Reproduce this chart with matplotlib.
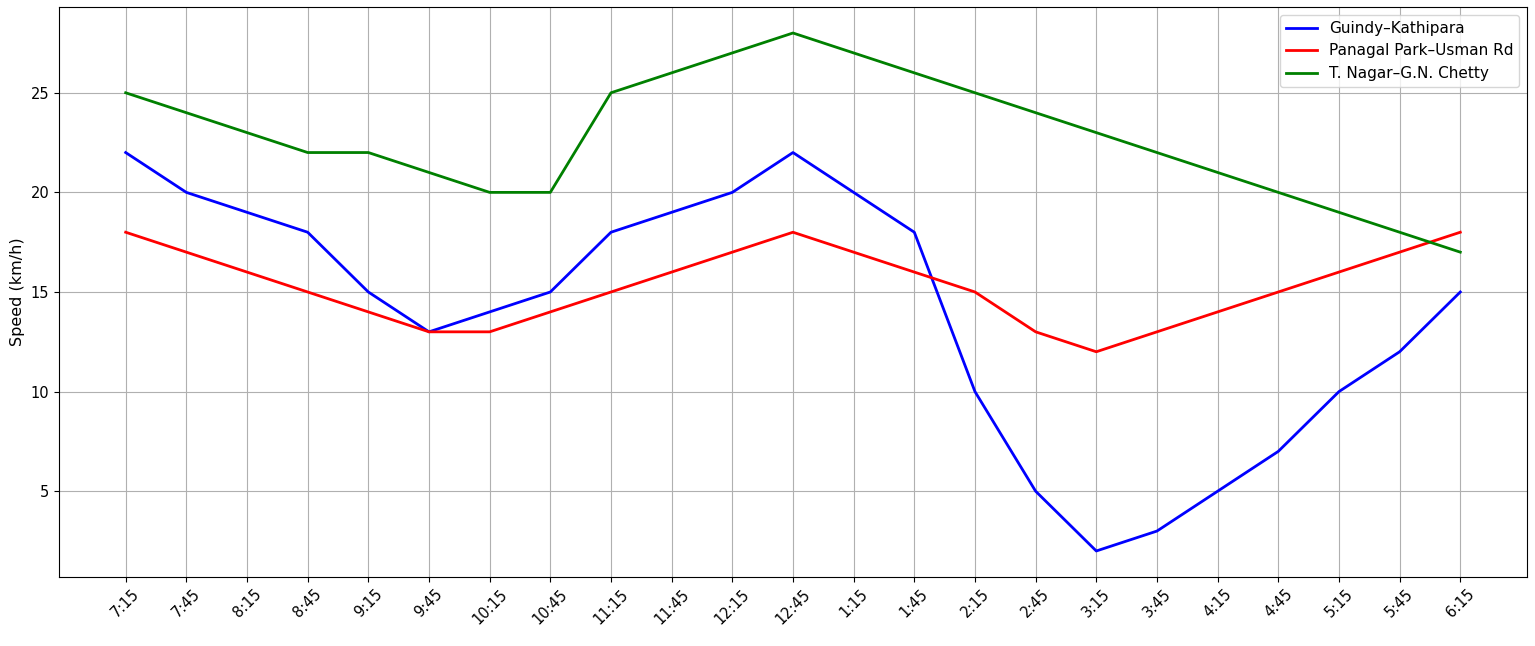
import matplotlib
matplotlib.use("Agg")
import matplotlib.pyplot as plt

times = ["7:15", "7:45", "8:15", "8:45", "9:15", "9:45", "10:15", "10:45",
         "11:15", "11:45", "12:15", "12:45", "1:15", "1:45", "2:15", "2:45",
         "3:15", "3:45", "4:15", "4:45", "5:15", "5:45", "6:15"]

guindy = [22, 20, 19, 18, 15, 13, 14, 15, 18, 19, 20, 22, 20, 18, 10, 5, 2, 3, 5, 7, 10, 12, 15]
panagal = [18, 17, 16, 15, 14, 13, 13, 14, 15, 16, 17, 18, 17, 16, 15, 13, 12, 13, 14, 15, 16, 17, 18]
tnagar = [25, 24, 23, 22, 22, 21, 20, 20, 25, 26, 27, 28, 27, 26, 25, 24, 23, 22, 21, 20, 19, 18, 17]

fig, ax = plt.subplots(figsize=(15.35, 6.46), dpi=100)
fig.subplots_adjust(left=0.0384, right=0.9948, top=0.989, bottom=0.107)

ax.plot(times, guindy, color="blue", linewidth=2, label="Guindy–Kathipara")
ax.plot(times, panagal, color="red", linewidth=2, label="Panagal Park–Usman Rd")
ax.plot(times, tnagar, color="green", linewidth=2, label="T. Nagar–G.N. Chetty")

ax.set_ylabel("Speed (km/h)", fontsize=11.5)
ax.tick_params(axis="both", labelsize=10.5)
plt.setp(ax.get_xticklabels(), rotation=45)
ax.grid(True)
ax.legend(loc="upper right", fontsize=11)

fig.savefig("out.png", dpi=100)
